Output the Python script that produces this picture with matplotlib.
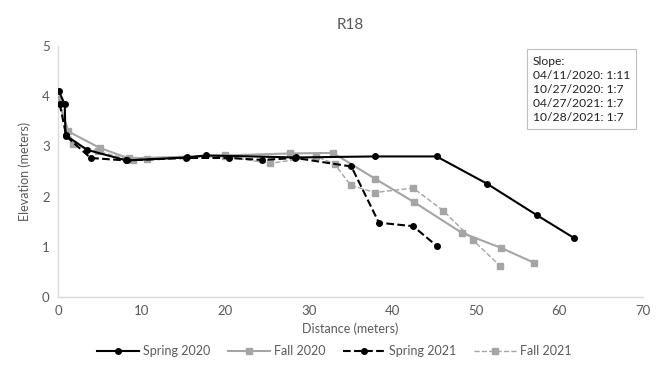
import matplotlib
matplotlib.use("Agg")
import matplotlib.pyplot as plt

plt.rcParams['font.family'] = ['Lato', 'DejaVu Sans']

spring2020_x = [0.1, 0.8, 0.9, 3.5, 8.2, 15.4, 17.7, 28.5, 37.9, 45.3, 51.3, 57.3, 61.7]
spring2020_y = [4.1, 3.84, 3.22, 2.93, 2.72, 2.78, 2.82, 2.78, 2.8, 2.8, 2.26, 1.63, 1.18]

fall2020_x = [0.0, 1.2, 5.0, 8.5, 20.0, 27.8, 32.9, 37.9, 42.6, 48.3, 53.0, 57.0]
fall2020_y = [3.95, 3.3, 2.97, 2.76, 2.82, 2.86, 2.87, 2.36, 1.89, 1.28, 0.98, 0.68]

spring2021_x = [0.2, 1.0, 3.9, 8.1, 15.3, 20.5, 24.4, 28.4, 35.1, 38.4, 42.5, 45.3]
spring2021_y = [3.85, 3.2, 2.77, 2.72, 2.77, 2.77, 2.73, 2.77, 2.6, 1.48, 1.41, 1.02]

fall2021_x = [0.1, 1.8, 4.8, 9.0, 10.6, 20.0, 25.4, 30.9, 33.1, 35.0, 37.9, 42.5, 46.1, 49.6, 52.9]
fall2021_y = [3.9, 3.05, 2.9, 2.72, 2.75, 2.8, 2.66, 2.8, 2.65, 2.23, 2.08, 2.17, 1.72, 1.14, 0.62]

slope_lines = ["Slope:", "04/11/2020: 1:11", "10/27/2020: 1:7", "04/27/2021: 1:7", "10/28/2021: 1:7"]

fig = plt.figure(figsize=(6.59, 3.87), dpi=100)
ax = fig.add_axes([58/659, 1-297/387, (643-58)/659, (297-46)/387])

gray = '#A5A5A5'
ax.plot(spring2020_x, spring2020_y, color='black', lw=1.5, marker='o', ms=4, label='Spring 2020', zorder=4)
ax.plot(fall2020_x, fall2020_y, color=gray, lw=1.5, marker='s', ms=4, label='Fall 2020', zorder=3)
ax.plot(spring2021_x, spring2021_y, color='black', lw=1.5, ls='--', marker='o', ms=4, label='Spring 2021', zorder=5)
ax.plot(fall2021_x, fall2021_y, color=gray, lw=1.0, ls='--', marker='s', ms=4, label='Fall 2021', zorder=2)

ax.set_xlim(0, 70)
ax.set_ylim(0, 5)
ax.set_xticks(range(0, 71, 10))
ax.set_yticks(range(0, 6))
for s in ['top', 'right']:
    ax.spines[s].set_visible(False)
for s in ['left', 'bottom']:
    ax.spines[s].set_color('#D9D9D9')
    ax.spines[s].set_linewidth(1.0)
ax.tick_params(length=0, labelsize=9.5, colors='#595959', pad=6)
ax.set_xlabel('Distance (meters)', fontsize=9, color='#595959', labelpad=4)
ax.set_ylabel('Elevation (meters)', fontsize=9, color='#595959', labelpad=8)
ax.set_title('R18', fontsize=11, color='#595959', pad=12)

ax.text(0.812, 0.962, "\n".join(slope_lines), transform=ax.transAxes, fontsize=8.7,
        va='top', ha='left', linespacing=1.35, color='#222222',
        bbox=dict(boxstyle='square,pad=0.5', fc='white', ec='#BFBFBF', lw=0.8))

fig.legend(loc='center', bbox_to_anchor=(0.507, 1-351/387), ncol=4, frameon=False,
           fontsize=9, handlelength=3.4, columnspacing=1.4, handletextpad=0.3,
           labelcolor='#595959')

fig.savefig('out.png', dpi=100)
